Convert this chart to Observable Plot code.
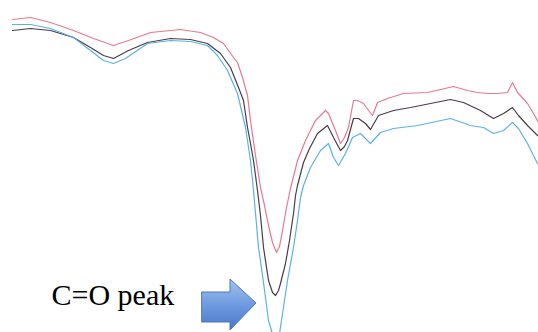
<!DOCTYPE html>
<html>
<head>
<meta charset="utf-8">
<script src="https://cdn.jsdelivr.net/npm/d3@7"></script>
<script src="https://cdn.jsdelivr.net/npm/@observablehq/plot@0.6"></script>
<style>
  html, body { margin: 0; padding: 0; background: #fff; }
  #chart svg { display: block; }
</style>
</head>
<body>
<div id="chart"></div>
<script>
// Spectrum traces (position along spectrum, signal depth)
const redX  = [12,30,50,73,93,113,128,150,180,200,213,223,233,237,242,247,250,255,260,264,268,272,276,279,282,286,290,297,305,315,325,328,335,340,344,348,353,357,363,368,372,377,387,403,427,453,467,477,487,497,507,512,517,527,533,538];
const redY  = [19,17,22,30,38,45,40,32,29,32,37,43,57,62,77,95,120,155,187,205,225,242,252,246,230,207,188,160,140,120,110,113,130,143,137,127,100,100,103,110,115,102,98,93,92,86,90,92,93,93,92,82,92,103,113,122];

const darkX = [12,30,50,73,90,103,113,128,147,170,190,207,220,230,238,243,247,250,253,257,260,263,268,272,275,278,280,285,289,293,295,297,303,309,317,327,333,340,344,347,353,358,365,370,378,393,410,430,450,463,480,493,503,512,518,527,537];
const darkY = [30,28,30,37,47,55,58,50,42,38,39,43,53,67,87,100,127,143,160,190,215,247,280,292,295,290,283,263,240,213,195,185,162,148,133,125,137,150,146,140,118,118,123,129,115,110,107,103,99,102,110,118,113,107,115,125,135];

const blueX = [12,30,50,73,90,103,113,125,147,170,190,207,217,227,237,245,250,253,258,262,265,268,271,273,278,281,284,287,293,297,300,303,310,320,328,333,338,345,352,360,370,380,393,417,450,470,483,493,503,512,518,527,537];
const blueY = [24,24,28,37,50,60,63,58,43,40,41,45,55,70,93,127,160,190,247,275,297,320,330,340,340,320,300,280,247,220,197,185,167,150,143,157,165,153,137,133,143,132,128,125,118,125,127,133,130,122,128,143,163];

const seriesNames  = ["red", "dark", "blue"];
const seriesColors = ["#e9798f", "#4a3b4c", "#5bb2e2"];

// Annotation
const labelText = ["C=O peak"];
const labelPos  = [{x: 51, y: 304}];
// Block arrow outline: x, top, bottom
const arrowX   = [202, 230, 230, 256];
const arrowTop = [292, 292, 279, 303];
const arrowBot = [322, 322, 330, 303];

const toRows = (xs, ys, s) => xs.map((x, i) => ({x, y: ys[i], s}));
const rows = [
  ...toRows(redX, redY, "red"),
  ...toRows(darkX, darkY, "dark"),
  ...toRows(blueX, blueY, "blue")
];
const arrow = arrowX.map((x, i) => ({x, y1: arrowTop[i], y2: arrowBot[i]}));
const labels = labelText.map((t, i) => ({t, ...labelPos[i]}));

const W = 538, H = 332;
const chart = Plot.plot({
  width: W,
  height: H,
  margin: 0,
  x: {domain: [0, W], range: [0, W], axis: null},
  y: {domain: [0, H], range: [0, H], axis: null},
  color: {domain: seriesNames, range: seriesColors},
  marks: [
    Plot.areaY(arrow, {x: "x", y1: "y1", y2: "y2", fill: "url(#arrowGrad)", stroke: "#4a79c2", strokeWidth: 1, curve: "linear", style: "filter:url(#arrowShadow)"}),
    Plot.line(rows, {x: "x", y: "y", z: "s", stroke: "s", strokeWidth: 1.2, curve: "linear", clip: true}),
    Plot.text(labels, {x: "x", y: "y", text: "t", textAnchor: "start", lineAnchor: "bottom", fontSize: 30, fontFamily: "Liberation Serif", fill: "#000"})
  ]
});

const svgns = "http://www.w3.org/2000/svg";
const defs = document.createElementNS(svgns, "defs");
defs.innerHTML = `
  <linearGradient id="arrowGrad" x1="0" y1="0" x2="0" y2="1">
    <stop offset="0" stop-color="#a3c2ee"/>
    <stop offset="0.5" stop-color="#6f9be0"/>
    <stop offset="1" stop-color="#4b78c8"/>
  </linearGradient>
  <filter id="arrowShadow" x="-20%" y="-20%" width="140%" height="160%">
    <feDropShadow dx="1" dy="3" stdDeviation="2" flood-color="#000" flood-opacity="0.3"/>
  </filter>`;
chart.insertBefore(defs, chart.firstChild);
document.getElementById("chart").appendChild(chart);
</script>
</body>
</html>
